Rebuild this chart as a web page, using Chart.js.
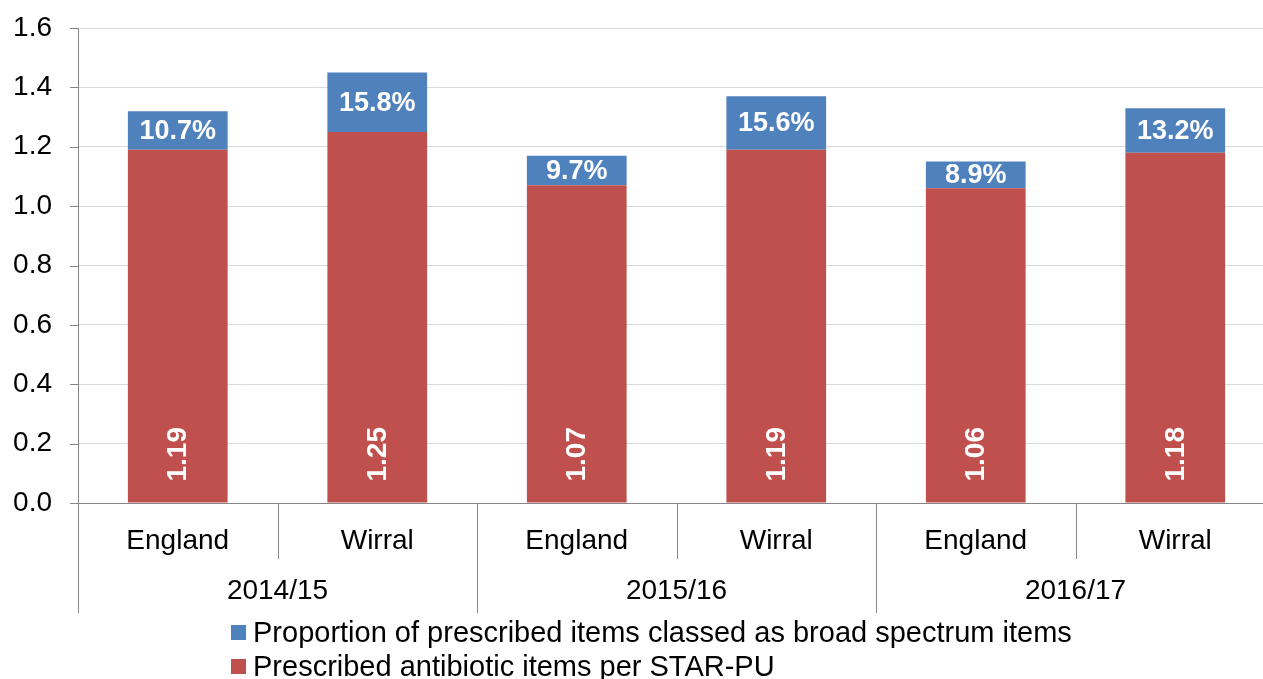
<!DOCTYPE html>
<html lang="en">
<head>
<meta charset="UTF-8">
<title>Antibiotic prescribing</title>
<script src="https://cdn.jsdelivr.net/npm/chart.js"></script>
<style>
  html, body { margin: 0; padding: 0; background: #fff; overflow: hidden; }
  #wrap { position: relative; width: 1280px; height: 679px; }
</style>
</head>
<body>
<div id="wrap"><canvas id="myChart"></canvas></div>
<script>
// Bars, grouped by year
const areas = ['England', 'Wirral', 'England', 'Wirral', 'England', 'Wirral'];
const years = ['2014/15', '2015/16', '2016/17'];
const itemsPerStarPu = [1.19, 1.25, 1.07, 1.19, 1.06, 1.18];
const broadSpectrumPart = [0.13, 0.20, 0.10, 0.18, 0.09, 0.15];
const broadSpectrumPct = ['10.7%', '15.8%', '9.7%', '15.6%', '8.9%', '13.2%'];
const yTicks = [0, 0.2, 0.4, 0.6, 0.8, 1.0, 1.2, 1.4, 1.6];

const RED = '#C0504D';
const BLUE = '#4F81BD';
const AXIS = '#868686';
const FONT = '"Liberation Sans", Arial, sans-serif';

// value labels inside the bars
const barLabels = {
    id: 'barLabels',
    afterDatasetsDraw(chart) {
        const ctx = chart.ctx;
        ctx.save();
        ctx.fillStyle = '#fff';
        ctx.font = 'bold 28px ' + FONT;
        chart.getDatasetMeta(0).data.forEach((bar, i) => {
            ctx.save();
            ctx.translate(bar.x, bar.base - 21);
            ctx.rotate(-Math.PI / 2);
            ctx.textAlign = 'left';
            ctx.textBaseline = 'middle';
            ctx.fillText(itemsPerStarPu[i].toFixed(2), 0, 1);
            ctx.restore();
        });
        ctx.font = 'bold 27px ' + FONT;
        ctx.textAlign = 'center';
        ctx.textBaseline = 'middle';
        chart.getDatasetMeta(1).data.forEach((bar, i) => {
            ctx.fillText(broadSpectrumPct[i], bar.x, (bar.y + bar.base) / 2 + 1);
        });
        ctx.restore();
    }
};

// y tick marks, two-level category axis and legend
const axisExtras = {
    id: 'axisExtras',
    afterDraw(chart) {
        const ctx = chart.ctx;
        const area = chart.chartArea;
        const x = chart.scales.x;
        const y = chart.scales.y;
        ctx.save();
        ctx.strokeStyle = AXIS;
        ctx.lineWidth = 1;
        ctx.beginPath();
        yTicks.forEach(v => {
            const py = Math.round(y.getPixelForValue(v)) + 0.5;
            ctx.moveTo(area.left - 8, py);
            ctx.lineTo(area.left, py);
        });
        const step = (area.right - area.left) / areas.length;
        for (let i = 0; i <= areas.length; i++) {
            const px = Math.round(area.left + i * step) + 0.5;
            const long = i % 2 === 0;
            ctx.moveTo(px, area.bottom);
            ctx.lineTo(px, area.bottom + (long ? 110 : 56));
        }
        ctx.stroke();

        ctx.fillStyle = '#000';
        ctx.font = '28px ' + FONT;
        ctx.textAlign = 'center';
        ctx.textBaseline = 'middle';
        areas.forEach((a, i) => {
            ctx.fillText(a, x.getPixelForValue(i), area.bottom + 38);
        });
        years.forEach((yr, g) => {
            const cx = (x.getPixelForValue(g * 2) + x.getPixelForValue(g * 2 + 1)) / 2;
            ctx.fillText(yr, cx, area.bottom + 88);
        });

        // legend, top series first
        ctx.font = '29px ' + FONT;
        ctx.textAlign = 'left';
        const items = [chart.data.datasets[1], chart.data.datasets[0]];
        items.forEach((ds, i) => {
            const cy = 633 + i * 34;
            ctx.fillStyle = ds.backgroundColor;
            ctx.fillRect(231, cy - 8, 15, 15);
            ctx.fillStyle = '#000';
            ctx.fillText(ds.label, 253, cy + 1);
        });
        ctx.restore();
    }
};

new Chart(document.getElementById('myChart'), {
    type: 'bar',
    data: {
        labels: areas,
        datasets: [
            {
                label: 'Prescribed antibiotic items per STAR-PU',
                data: itemsPerStarPu,
                backgroundColor: RED,
                categoryPercentage: 1,
                barPercentage: 0.5
            },
            {
                label: 'Proportion of prescribed items classed as broad spectrum items',
                data: broadSpectrumPart,
                backgroundColor: BLUE,
                categoryPercentage: 1,
                barPercentage: 0.5
            }
        ]
    },
    options: {
        responsive: true,
        maintainAspectRatio: false,
        animation: false,
        layout: { padding: { top: 28, right: 5, bottom: 176, left: 0 } },
        plugins: {
            legend: { display: false },
            tooltip: { enabled: false }
        },
        scales: {
            x: {
                stacked: true,
                display: false
            },
            y: {
                stacked: true,
                min: 0,
                max: 1.6,
                afterFit: s => {
                    s.width = 78;
                    s.paddingTop = 0;
                    s.paddingBottom = 0;
                },
                afterBuildTicks: s => { s.ticks = yTicks.map(v => ({ value: v })); },
                border: { color: AXIS },
                grid: {
                    drawTicks: false,
                    color: c => (c.tick && c.tick.value === 0 ? AXIS : '#d9d9d9')
                },
                ticks: {
                    padding: 26,
                    color: '#000',
                    font: { family: FONT, size: 28 },
                    callback: v => Number(v).toFixed(1)
                }
            }
        }
    },
    plugins: [barLabels, axisExtras]
});
</script>
</body>
</html>
